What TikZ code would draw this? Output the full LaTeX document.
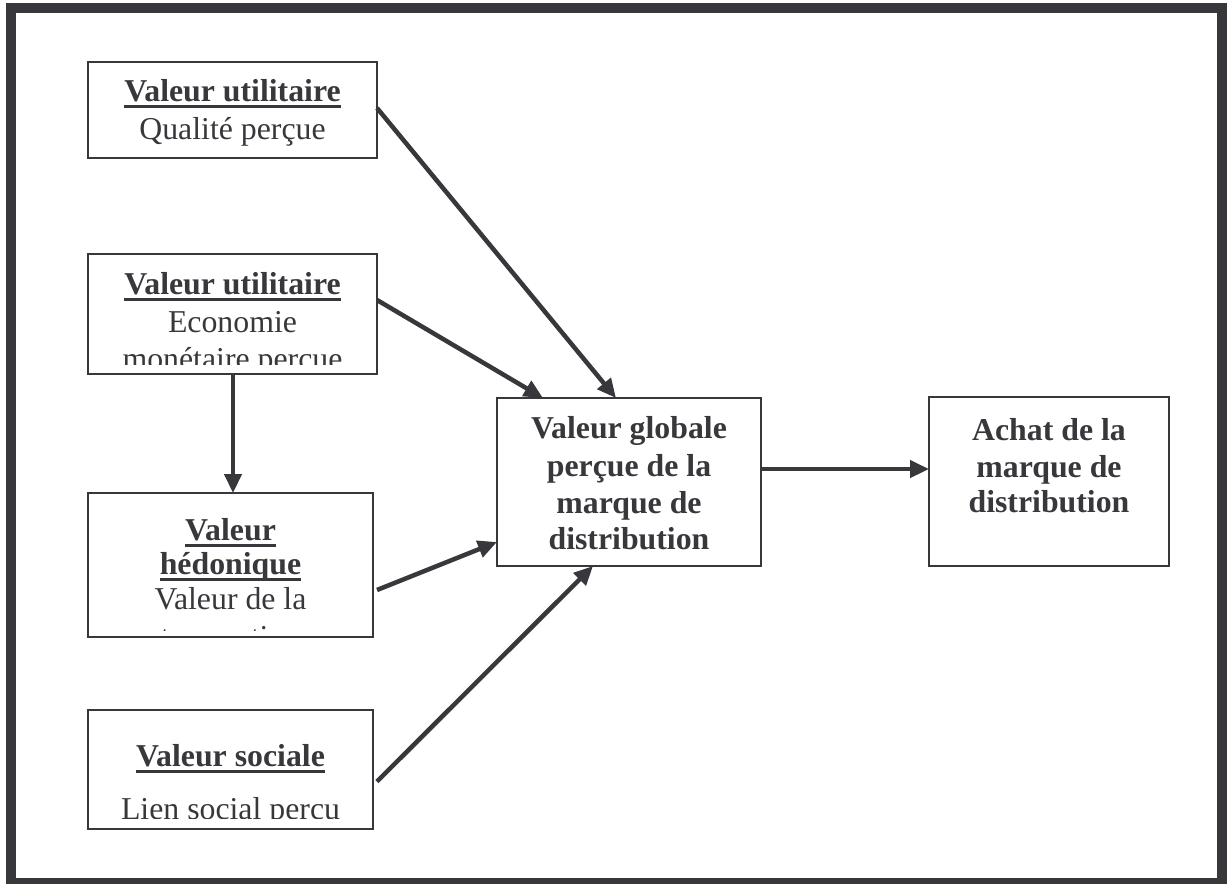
\documentclass[tikz,border=0pt]{standalone}
\usepackage{fontspec}
\setmainfont{Liberation Serif}
\usetikzlibrary{arrows.meta}
\definecolor{ink}{HTML}{38383C}
\newsavebox\myulbox
\newcommand\myul[1]{\sbox\myulbox{#1}\rlap{\color{ink}\rule[-6.8pt]{\wd\myulbox}{2.6pt}}\usebox\myulbox}
\newcommand\fs{\fontsize{31.8}{37}\selectfont}
\tikzset{
  box/.style={draw=ink, line width=2pt, inner sep=0pt, outer sep=0pt},
  txt/.style={anchor=base, inner sep=0pt, outer sep=0pt, text=ink, font=\fs},
  btxt/.style={txt, font=\fs\bfseries},
  arr/.style={draw=ink, line width=4.5pt, -{Triangle[length=19pt,width=17pt]}}
}
\begin{document}
\begin{tikzpicture}[x=1pt,y=-1pt]
\useasboundingbox (0,0) rectangle (1227,884);
\fill[white] (0,0) rectangle (1227,884);
% outer frame
\draw[ink, line width=10pt] (11,8) rectangle (1222,883);

% boxes
\node[box, minimum width=289pt, minimum height=96pt]  (b1) at (232.5,110) {};
\node[box, minimum width=289pt, minimum height=120pt] (b2) at (232.5,314) {};
\node[box, minimum width=285pt, minimum height=144pt] (b3) at (230.5,565) {};
\node[box, minimum width=285pt, minimum height=119pt] (b4) at (230.5,769.5) {};
\node[box, minimum width=264pt, minimum height=168pt] (c)  at (629,482) {};
\node[box, minimum width=240pt, minimum height=169pt] (r)  at (1049,481.5) {};

% box 1 text
\node[btxt] (t1a) at (232.5,101) {\myul{Valeur utilitaire}};
\node[txt]  (t1b) at (232.5,139) {Qualité perçue};

% box 2 text (clipped)
\begin{scope}
\clip (90,256) rectangle (375,364);
\node[btxt] (t2a) at (232.5,294) {\myul{Valeur utilitaire}};
\node[txt]  (t2b) at (232.5,332) {Economie};
\node[txt]  (t2c) at (232.5,369) {monétaire perçue};
\end{scope}

% box 3 text (clipped)
\begin{scope}
\clip (90,495) rectangle (371,630);
\node[btxt] (t3a) at (230.5,540) {\myul{Valeur}};
\node[btxt] (t3b) at (230.5,574) {\myul{hédonique}};
\node[txt]  (t3c) at (230.5,609) {Valeur de la};
\node[txt]  (t3d) at (230.5,647) {transaction};
\end{scope}

% box 4 text (clipped)
\begin{scope}
\clip (90,712) rectangle (371,818);
\node[btxt] (t4a) at (230.5,766) {\myul{Valeur sociale}};
\node[txt]  (t4b) at (230.5,819) {Lien social perçu};
\end{scope}

% centre box text
\node[btxt] (tca) at (629,438) {Valeur globale};
\node[btxt] (tcb) at (629,476) {perçue de la};
\node[btxt] (tcc) at (629,513) {marque de};
\node[btxt] (tcd) at (629,549) {distribution};

% right box text
\node[btxt] (tra) at (1049,440) {Achat de la};
\node[btxt] (trb) at (1049,477) {marque de};
\node[btxt] (trc) at (1049,512) {distribution};

% connectors
\draw[arr] ([yshift=2pt]b1.east) -- ([xshift=-13pt]c.north);
\draw[arr] ([yshift=14pt]b2.east) -- ([xshift=-86pt]c.north);
\draw[arr] ([xshift=0.5pt]b2.south) -- ([xshift=0.5pt]b2.south |- b3.north);
\draw[arr] ([shift={(4pt,-25pt)}]b3.east) -- ([yshift=-60pt]c.west);
\draw[arr] ([shift={(4pt,-12pt)}]b4.east) -- ([xshift=-36pt]c.south);
\draw[arr] ([yshift=13pt]c.east) -- ([yshift=13pt]c.east -| r.west);
\end{tikzpicture}
\end{document}
